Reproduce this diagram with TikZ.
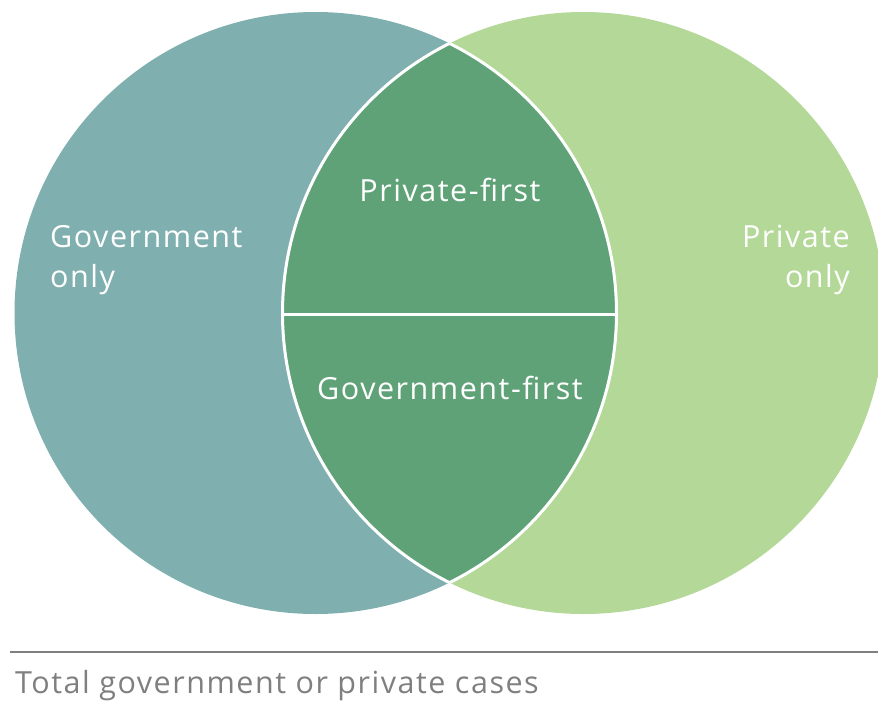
\documentclass[tikz,border=0pt]{standalone}
\usepackage{fontspec}
\setmainfont[LetterSpace=5]{Open Sans}
\definecolor{govc}{HTML}{80AFAF}
\definecolor{privc}{HTML}{B3D898}
\definecolor{bothc}{HTML}{5FA277}
\definecolor{greyc}{HTML}{7F7F7F}
\begin{document}
\begin{tikzpicture}[x=1pt,y=1pt,
  lbl/.style={text=white,font=\fontsize{30.5}{40}\selectfont,inner sep=0pt},
  foot/.style={text=greyc,font=\fontsize{30.5}{36}\selectfont,inner sep=0pt,anchor=base west}]
\clip (0,0) rectangle (878,-702);
\coordinate (cl) at (315.5,-313);
\coordinate (cr) at (583.5,-313);
\fill[govc] (cl) circle[radius=301];
\fill[privc] (cr) circle[radius=301];
\begin{scope}
  \clip (cl) circle[radius=301];
  \fill[bothc] (cr) circle[radius=301];
  \draw[white,line width=3] (cr) circle[radius=301];
\end{scope}
\begin{scope}
  \clip (cr) circle[radius=301];
  \draw[white,line width=3] (cl) circle[radius=301];
\end{scope}
\coordinate (ml) at (281,-314);
\coordinate (mr) at (618,-314);
\draw[white,line width=3] (ml) -- (mr);
\node[lbl,anchor=west,align=left] (gov) at (50,-260) {Government\\only};
\node[lbl,anchor=east,align=right] (priv) at (850,-260) {Private\\only};
\node[lbl] (pf) at (450,-190) {Private-first};
\node[lbl] (gf) at (450,-388) {Government-first};
\coordinate (la) at (10,-652);
\coordinate (lb) at (878,-652);
\draw[greyc,line width=2] (la) -- (lb);
\node[foot] (tot) at (15,-693) {Total government or private cases};
\end{tikzpicture}
\end{document}
